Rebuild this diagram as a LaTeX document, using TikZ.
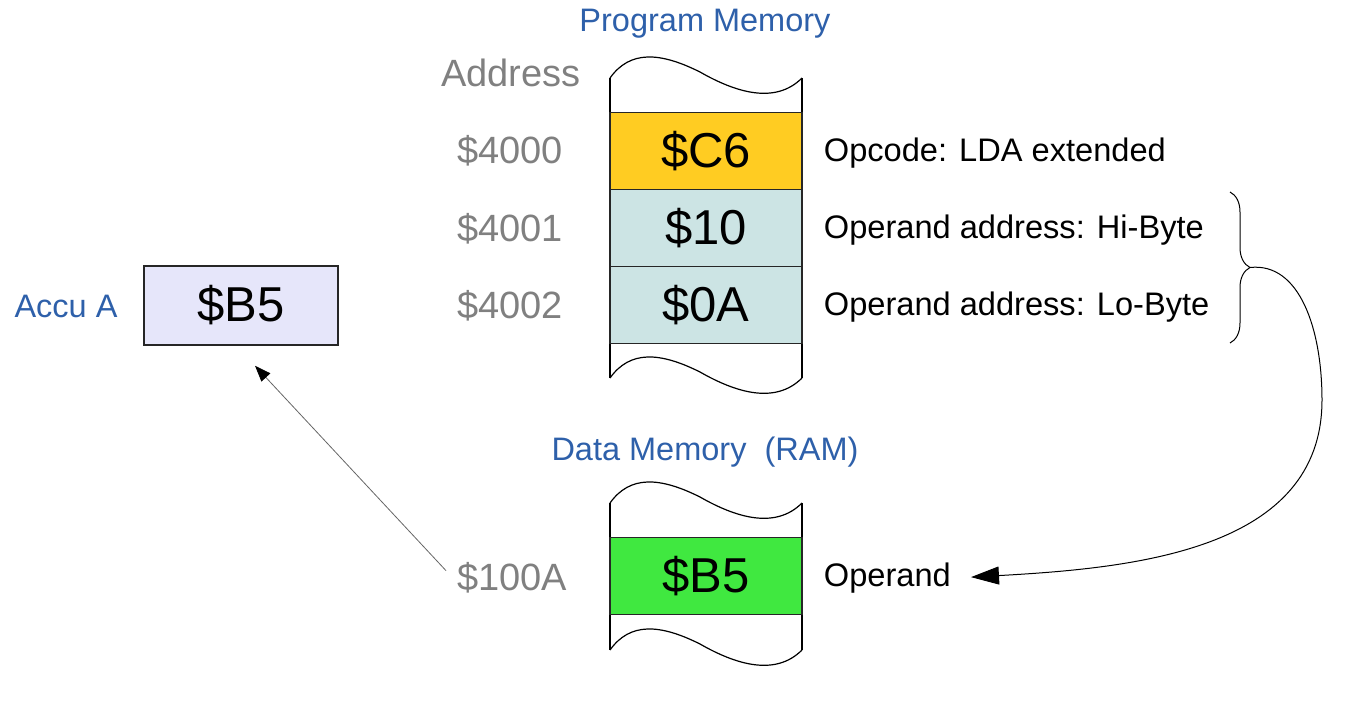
\documentclass[tikz,border=0pt]{standalone}
\usepackage{fontspec}
\setmainfont{Liberation Sans}
\usepackage{tikz}
\usetikzlibrary{arrows.meta,decorations.pathreplacing,positioning}
\definecolor{opyellow}{RGB}{255,204,34}
\definecolor{opcyan}{RGB}{204,228,228}
\definecolor{opgreen}{RGB}{64,232,64}
\definecolor{accubg}{RGB}{230,230,250}
\definecolor{memblue}{RGB}{46,96,170}
\tikzset{
cell/.style={draw=black!85,line width=1.5pt,minimum width=192pt,minimum height=77pt,inner sep=0pt,font=\fontsize{49}{55}\selectfont},
addr/.style={text=black!50,inner sep=4pt,font=\fontsize{38}{44}\selectfont},
note/.style={inner sep=4pt,yshift=-2pt,font=\fontsize{32.6}{38}\selectfont},
memtitle/.style={text=memblue,inner sep=2pt,font=\fontsize{32.5}{38}\selectfont}
}

\begin{document}
\begin{tikzpicture}[x=1pt,y=-1pt]
\useasboundingbox (0,0) rectangle (1345,715);
\foreach \b in {78,378,503,650}
\draw[line width=1.2pt,shift={(610,\b)}] (0,0) .. controls (20,-28) and (50,-26) .. (90,-6) .. controls (125,14) and (165,27) .. (192,0);
\foreach \x in {610,802}
{\draw[line width=1.2pt] (\x,78) -- (\x,378);
\draw[line width=1.2pt] (\x,503) -- (\x,650);}
\node[cell,fill=opyellow] (c6) at (706,151) {\$C6};
\node[cell,fill=opcyan] (hi) at (706,228) {\$10};
\node[cell,fill=opcyan] (lo) at (706,305) {\$0A};
\node[cell,fill=opgreen] (data) at (706,576) {\$B5};
\node[cell,fill=accubg,minimum width=194pt,minimum height=79pt] (accu) at (241,305.5) {\$B5};
\node[memtitle] (progmem) at (705,24) {Program Memory};
\node[memtitle] (datamem) at (705,452) {Data Memory\ \ (RAM)};
\node[memtitle] (accuname) at (66,306) {Accu A};
\node[addr] (addrhead) at (511,73) {Address};
\node[addr] (a4000) at (510,151) {\$4000};
\node[addr] (a4001) at (510,229) {\$4001};
\node[addr] (a4002) at (510,306) {\$4002};
\node[addr] (a100A) at (512,578) {\$100A};
\node[note,right=17pt of c6] (opcode) {Opcode: LDA extended};
\node[note,right=17pt of hi] (hinote) {Operand address: Hi-Byte};
\node[note,right=17pt of lo] (lonote) {Operand address: Lo-Byte};
\node[note,right=17pt of data] (operand) {Operand};
\draw[line width=1pt,decorate,decoration={brace,amplitude=20pt}] (1230,192) -- (1230,343);
\coordinate (bracetip) at (1250,267.5);
\coordinate (bend) at (1322,400);
\draw[line width=1pt,-{Triangle[length=28pt,width=18pt]},shorten >=16pt] (bracetip) .. controls (1300,262) and (1322,330) .. (bend) .. controls +(0,150) and +(180,-10) .. (operand.east);
\draw[line width=0.8pt,black!60,-{Triangle[length=16pt,width=12pt,black]},shorten <=10pt] (a100A.west) -- ([xshift=14pt,yshift=-20pt]accu.south);
\end{tikzpicture}
\end{document}
